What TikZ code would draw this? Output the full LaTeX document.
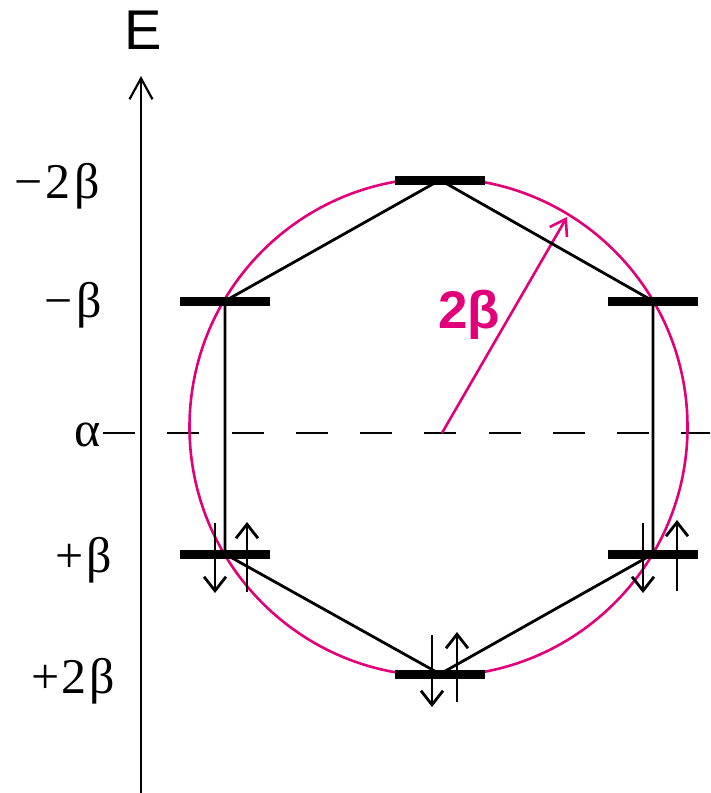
\documentclass[tikz,border=0pt]{standalone}
\usepackage{fontspec}
\setmainfont{Liberation Serif}
\setsansfont{Liberation Sans}
\usetikzlibrary{arrows.meta}
\definecolor{huckelpink}{RGB}{226,0,122}

\begin{document}
\begin{tikzpicture}[
  x=1pt, y=-1pt,
  elbl/.style={font=\fontsize{50}{50}\selectfont, inner sep=0pt, anchor=base east},
  level/.style={line width=9pt},
  bond/.style={line width=2.8pt},
  spin/.style={line width=2.8pt, -{Straight Barb[length=14pt, width=22pt]}},
  axis/.style={line width=2.2pt, -{Straight Barb[length=21pt, width=23pt]}},
  ring/.style={draw=huckelpink, line width=2.6pt}
]
\useasboundingbox (0,0) rectangle (710,793);

% energy axis
\coordinate (ax0) at (141,793);
\coordinate (ax1) at (141,76);
\draw[axis] (ax0) -- (ax1);
\node[font=\sffamily\fontsize{56}{56}\selectfont] (ename) at (143,30) {E};

% level labels
\node[elbl] (lm2) at (100,198) {−\kern3pt 2\kern4pt β};
\node[elbl] (lm1) at (102,317) {−\kern4pt β};
\node[elbl] (lal) at (101,446) {α};
\node[elbl] (lp1) at (112,572) {+\kern3pt β};
\node[elbl] (lp2) at (115,693) {+\kern2pt 2\kern3pt β};

% alpha line
\coordinate (d0) at (103,433);
\coordinate (d1) at (710,433);
\draw[line width=2.2pt, dash pattern=on 32pt off 32.25pt] (d0) -- (d1);

% Frost circle
\coordinate (c) at (438.5,427);
\coordinate (o) at (442,433);
\coordinate (tip) at (567,217);
\draw[ring] (c) circle[radius=249];
\draw[ring, -{Straight Barb[length=15pt, width=20pt]}] (o) -- (tip);
\node[font=\sffamily\bfseries\fontsize{53}{53}\selectfont, text=huckelpink,
  inner sep=0pt, anchor=base] (rlbl) at (469,328) {2β};

% hexagon vertices
\coordinate (top) at (440,180);
\coordinate (ul) at (225,301);
\coordinate (ur) at (653,301);
\coordinate (ll) at (225,554);
\coordinate (lr) at (653,554);
\coordinate (bot) at (440,674);
\draw[bond] (top) -- (ur) -- (lr) -- (bot) -- (ll) -- (ul) -- cycle;

% energy levels
\foreach \v in {top,ul,ur,ll,lr,bot}
  \draw[level] ([xshift=-45pt]\v) -- ([xshift=45pt]\v);

% electrons
\draw[spin] ([shift={(-10,-31)}]ll) -- ([shift={(-10,39)}]ll);
\draw[spin] ([shift={(22,38)}]ll) -- ([shift={(22,-32)}]ll);
\draw[spin] ([shift={(-8,-39)}]bot) -- ([shift={(-8,33)}]bot);
\draw[spin] ([shift={(17,28)}]bot) -- ([shift={(17,-42)}]bot);
\draw[spin] ([shift={(-10,-31)}]lr) -- ([shift={(-10,39)}]lr);
\draw[spin] ([shift={(24,37)}]lr) -- ([shift={(24,-34)}]lr);

\end{tikzpicture}
\end{document}
